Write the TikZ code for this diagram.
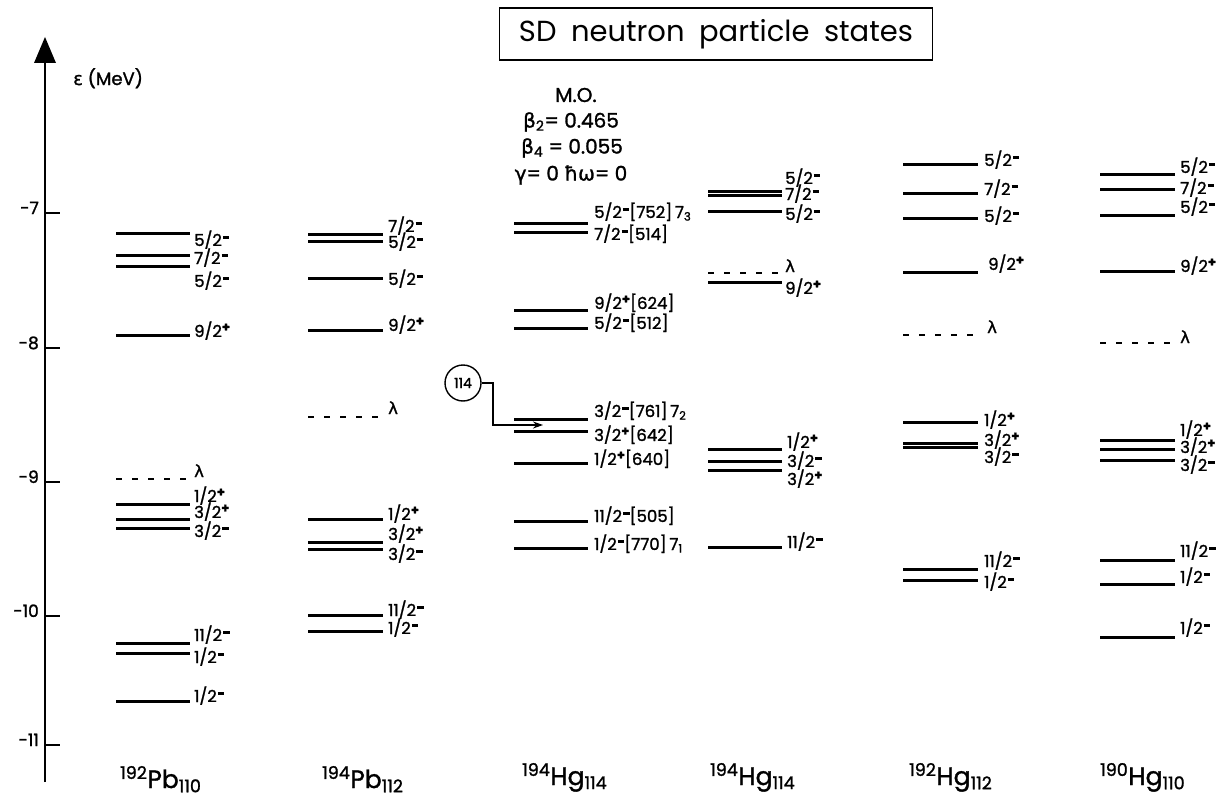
\documentclass[tikz,border=0pt]{standalone}
\usepackage{fontspec}
\setmainfont{Poppins}
\newfontfamily\labf{Poppins}[FakeBold=1.4]
\newfontfamily\grk{DejaVu Sans}[FakeBold=1.2]
\usetikzlibrary{arrows.meta}
\newcommand\ssm{\kern1pt\raisebox{7pt}{\rule{6.5pt}{2.6pt}}}
\newcommand\ssp{\raisebox{5.5pt}{\fontsize{13}{13}\selectfont\bfseries +}}
\tikzset{
  lev/.style={line width=3pt},
  fermi/.style={line width=2.8pt, dash pattern=on 6pt off 10pt},
  lab/.style={anchor=base west, inner sep=0pt, font=\labf\fontsize{16.5}{16.5}\selectfont},
  tlab/.style={anchor=base east, inner sep=0pt, font=\labf\fontsize{17}{17}\selectfont},
  iso/.style={anchor=base west, inner sep=0pt, font=\labf\fontsize{25}{25}\selectfont},
  mo/.style={inner sep=0pt, font=\labf\fontsize{20}{20}\selectfont},
}
\begin{document}
\begin{tikzpicture}[x=1pt,y=-1pt]
\useasboundingbox (0,0) rectangle (1224,800);
% title
\node[draw, line width=1.6pt, minimum width=433pt, minimum height=52pt, inner sep=0pt,
      font=\fontsize{29}{29}\selectfont] (title) at (716,34) {SD\hspace{0.5em}neutron\hspace{0.5em}particle\hspace{0.5em}states};
% axis
\coordinate (axtop) at (45,60);
\coordinate (axbot) at (45,782);
\draw[line width=2.4pt] (axbot) -- (axtop);
\fill (45,37) -- (34,63) -- (56,63) -- cycle;
\node[anchor=base west, inner sep=0pt, font=\labf\fontsize{18}{18}\selectfont] (eps) at (73,85) {{\grk ε} (MeV)};
\foreach \v/\y in {7/213,8/348,9/482,10/616,11/745}{
  \draw[line width=2.4pt] (45,\y) -- (60,\y);
  \node[tlab] (t\v) at (39,\y+1) {-\v};
}
% M.O. block
\node[mo] (mo1) at (576,95) {M.O.};
\node[mo] (mo2) at (571,122) {{\grk β}\textsubscript{2}= 0.465};
\node[mo] (mo3) at (572,148) {{\grk β}\textsubscript{4} = 0.055};
\node[mo] (mo4) at (571,175) {{\grk γ}= 0 {\grk ħω}= 0};
% ---------- column 1 : 192Pb110
\foreach \y in {233,255,266,335,504,519,528,643,653,701} \draw[lev] (116,\y) -- (190,\y);
\draw[fermi] (116,479) -- (190,479);
\node[lab] (a1) at (194,246) {5/2\ssm};
\node[lab] (a2) at (194,264) {7/2\ssm};
\node[lab] (a3) at (194,287) {5/2\ssm};
\node[lab] (a4) at (194,337) {9/2\ssp};
\node[lab] (a5) at (194,477) {\grk λ};
\node[lab] (a6) at (194,502) {1/2\ssp};
\node[lab] (a7) at (194,518) {3/2\ssp};
\node[lab] (a8) at (194,537) {3/2\ssm};
\node[lab] (a9) at (194,641) {11/2\ssm};
\node[lab] (a10) at (194,663) {1/2\ssm};
\node[lab] (a11) at (194,702) {1/2\ssm};
\node[iso] (i1) at (120,788) {\textsuperscript{192}Pb\textsubscript{110}};
% ---------- column 2 : 194Pb112
\foreach \y in {234,241,278,330,519,542,549,615,631} \draw[lev] (308,\y) -- (383,\y);
\draw[fermi] (308,417) -- (383,417);
\node[lab] (b1) at (388,232) {7/2\ssm};
\node[lab] (b2) at (388,248) {5/2\ssm};
\node[lab] (b3) at (388,285) {5/2\ssm};
\node[lab] (b4) at (388,331) {9/2\ssp};
\node[lab] (b5) at (388,414) {\grk λ};
\node[lab] (b6) at (388,520) {1/2\ssp};
\node[lab] (b7) at (388,540) {3/2\ssp};
\node[lab] (b8) at (388,560) {3/2\ssm};
\node[lab] (b9) at (388,616) {11/2\ssm};
\node[lab] (b10) at (388,634) {1/2\ssm};
\node[iso] (i2) at (322,788) {\textsuperscript{194}Pb\textsubscript{112}};
% ---------- column 3 : 194Hg114 (M.O.)
\foreach \y in {223,232,310,328,419,431,463,521,548} \draw[lev] (514,\y) -- (588,\y);
\node[lab] (c1) at (594,218) {5/2\ssm[752]\,7\textsubscript{3}};
\node[lab] (c2) at (594,240) {7/2\ssm[514]};
\node[lab] (c3) at (594,309) {9/2\ssp[624]};
\node[lab] (c4) at (594,329) {5/2\ssm[512]};
\node[lab] (c5) at (594,417) {3/2\ssm[761]\,7\textsubscript{2}};
\node[lab] (c6) at (594,441) {3/2\ssp[642]};
\node[lab] (c7) at (594,465) {1/2\ssp[640]};
\node[lab] (c8) at (594,522) {11/2\ssm[505]};
\node[lab] (c9) at (594,550) {1/2\ssm[770]\,7\textsubscript{1}};
\node[iso] (i3) at (522,785) {\textsuperscript{194}Hg\textsubscript{114}};
% circle 114 and pointer
\node[draw, circle, line width=1.4pt, minimum size=36pt, inner sep=0pt,
      font=\labf\fontsize{14}{14}\selectfont] (n114) at (463,383) {114};
\coordinate (p1) at (493,383);
\coordinate (p2) at (493,425);
\coordinate (p3) at (543,425);
\draw[line width=1.4pt, -{Stealth[length=10pt,width=7pt]}] (n114.east) -- (p1) -- (p2) -- (p3);
% ---------- column 4 : 194Hg114
\foreach \y in {191,195,211,282,449,461,470,547} \draw[lev] (708,\y) -- (782,\y);
\draw[fermi] (708,273) -- (782,273);
\node[lab] (d1) at (785,184) {5/2\ssm};
\node[lab] (d2) at (785,200) {7/2\ssm};
\node[lab] (d3) at (785,220) {5/2\ssm};
\node[lab] (d4) at (785,272) {\grk λ};
\node[lab] (d5) at (785,294) {9/2\ssp};
\node[lab] (d6) at (787,448) {1/2\ssp};
\node[lab] (d7) at (787,467) {3/2\ssm};
\node[lab] (d8) at (787,485) {3/2\ssp};
\node[lab] (d9) at (787,548) {11/2\ssm};
\node[iso] (i4) at (710,785) {\textsuperscript{194}Hg\textsubscript{114}};
% ---------- column 5 : 192Hg112
\foreach \y in {164,193,218,272,422,443,447,569,580} \draw[lev] (903,\y) -- (978,\y);
\draw[fermi] (903,335) -- (978,335);
\node[lab] (e1) at (984,166) {5/2\ssm};
\node[lab] (e2) at (984,195) {7/2\ssm};
\node[lab] (e3) at (984,222) {5/2\ssm};
\node[lab] (e4) at (988,270) {9/2\ssp};
\node[lab] (e5) at (987,333) {\grk λ};
\node[lab] (e6) at (984,426) {1/2\ssp};
\node[lab] (e7) at (984,446) {3/2\ssp};
\node[lab] (e8) at (984,463) {3/2\ssm};
\node[lab] (e9) at (984,567) {11/2\ssm};
\node[lab] (e10) at (984,588) {1/2\ssm};
\node[iso] (i5) at (909,785) {\textsuperscript{192}Hg\textsubscript{112}};
% ---------- column 6 : 190Hg110
\foreach \y in {174,189,215,271,440,449,460,560,584,637} \draw[lev] (1100,\y) -- (1175,\y);
\draw[fermi] (1100,343) -- (1175,343);
\node[lab] (f1) at (1180,173) {5/2\ssm};
\node[lab] (f2) at (1180,194) {7/2\ssm};
\node[lab] (f3) at (1180,213) {5/2\ssm};
\node[lab] (f4) at (1180,272) {9/2\ssp};
\node[lab] (f5) at (1180,343) {\grk λ};
\node[lab] (f6) at (1180,436) {1/2\ssp};
\node[lab] (f7) at (1180,453) {3/2\ssp};
\node[lab] (f8) at (1180,471) {3/2\ssm};
\node[lab] (f9) at (1180,557) {11/2\ssm};
\node[lab] (f10) at (1180,583) {1/2\ssm};
\node[lab] (f11) at (1180,634) {1/2\ssm};
\node[iso] (i6) at (1100,785) {\textsuperscript{190}Hg\textsubscript{110}};
\end{tikzpicture}
\end{document}
